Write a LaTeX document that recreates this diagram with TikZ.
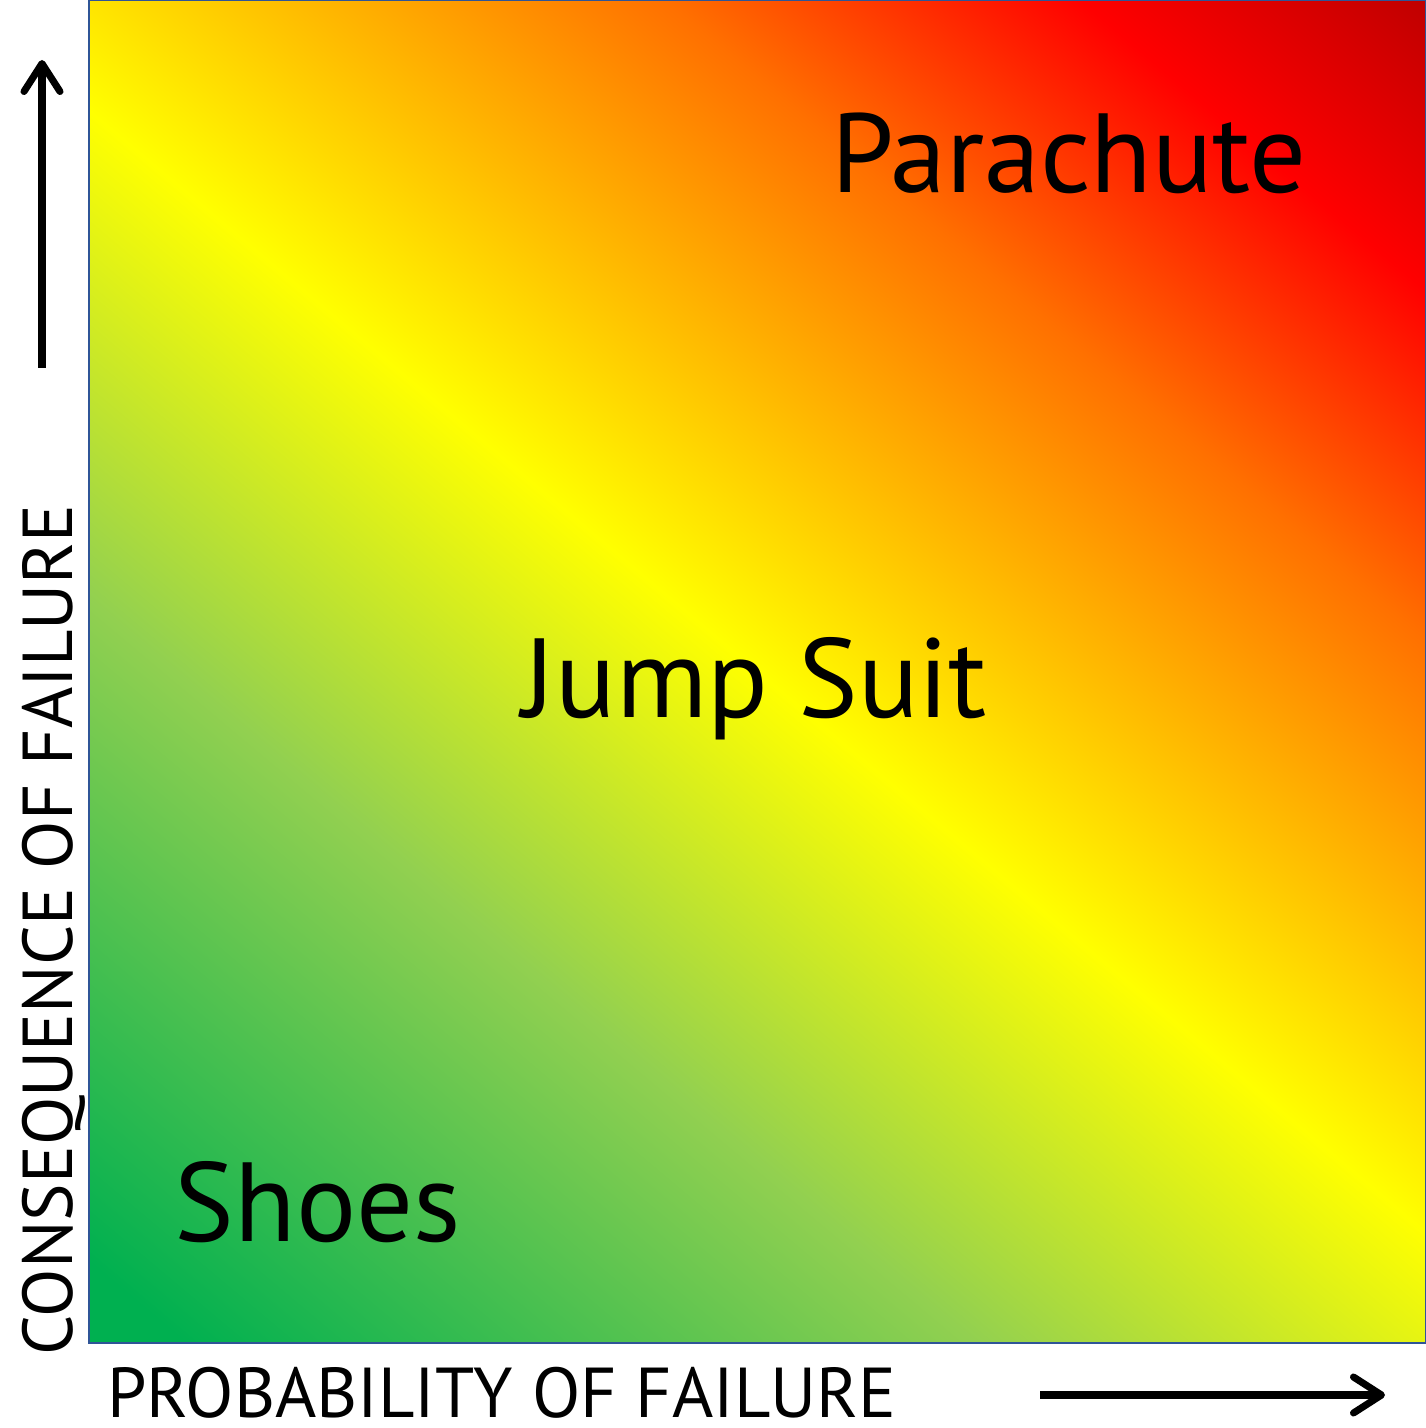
\documentclass[tikz,border=0pt]{standalone}
\usepackage{fontspec}
\setmainfont{PT Sans}
\usetikzlibrary{arrows.meta}
\definecolor{riskgreen}{HTML}{00B050}
\definecolor{risklime}{HTML}{92D050}
\definecolor{riskyellow}{HTML}{FFFF00}
\definecolor{riskorange}{HTML}{FF7000}
\definecolor{riskred}{HTML}{FF0000}
\definecolor{riskdark}{HTML}{C00000}
\definecolor{riskblue}{HTML}{2F5597}
\pgfdeclarehorizontalshading{riskshade}{100bp}{color(0bp)=(riskgreen); color(17bp)=(riskgreen);
  color(36bp)=(risklime); color(50bp)=(riskyellow); color(67bp)=(riskorange);
  color(77bp)=(riskred); color(85.2bp)=(riskdark); color(100bp)=(riskdark)}
\tikzset{
  itemtext/.style={font=\fontsize{32}{32}\selectfont, inner sep=0pt},
  axistext/.style={font=\fontsize{20.1}{20}\selectfont, inner sep=0pt},
  axisarrow/.style={line width=2pt, -{Straight Barb[round, length=0.28cm, width=0.36cm]}}
}
\begin{document}
\begin{tikzpicture}
\useasboundingbox (0,0) rectangle (14.26,14.28);
% Risk field
\path[shading=riskshade, shading angle=50] (0.89,0.85) rectangle (14.26,14.28);
\draw[riskblue, line width=0.8pt] (0.89,0.85) rectangle (14.26,14.28);
% Items
\node[itemtext, anchor=base] (parachute) at (10.69,12.35) {Parachute};
\node[itemtext, anchor=base] (jumpsuit) at (7.55,7.10) {Jump Suit};
\node[itemtext, anchor=base] (shoes) at (3.18,1.86) {Shoes};
% Axis labels
\node[axistext, anchor=base] (problabel) at (5.02,0.11) {PROBABILITY OF FAILURE};
\node[axistext, anchor=base, rotate=90] (conslabel) at (0.72,4.98) {CONSEQUENCE OF FAILURE};
% Axis arrows
\coordinate (ytail) at (0.42,10.60);
\coordinate (yhead) at (0.42,13.68);
\draw[axisarrow] (ytail) -- (yhead);
\coordinate (xtail) at (10.40,0.33);
\coordinate (xhead) at (13.85,0.33);
\draw[axisarrow] (xtail) -- (xhead);
\end{tikzpicture}
\end{document}
